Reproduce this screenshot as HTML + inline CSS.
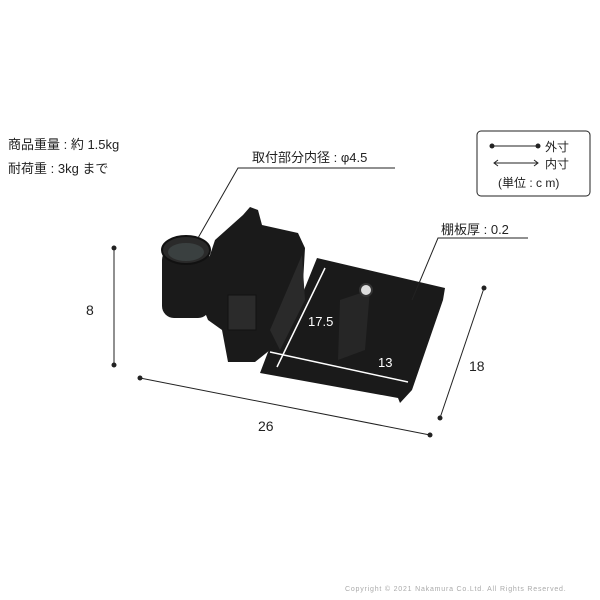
<html><body style="margin:0;width:600px;height:600px;background:#fff;position:relative;font-family:'Liberation Sans','Noto Sans CJK JP',sans-serif;color:#222;overflow:hidden">
<svg width="600" height="600" style="position:absolute;left:0;top:0">
<g fill="#1a1a1a">
<polygon points="317,258 445,288 443,300 412,390 400,403 398,398 260,373 268,352 300,300"/>
<polygon points="243,215 250,207 258,210 262,225 298,233 305,248 302,300 290,325 270,350 255,362 228,362 222,330 208,320 200,300 205,270 215,240"/>
<rect x="162" y="248" width="48" height="70" rx="12"/>
</g>
<ellipse cx="186" cy="250" rx="24" ry="14" fill="#2a2a2a" stroke="#111" stroke-width="2"/>
<ellipse cx="186" cy="252" rx="18" ry="9" fill="#3a4040"/>
<polygon points="270,330 302,255 305,300 280,350" fill="#2a2a2a"/>
<rect x="228" y="295" width="28" height="35" fill="#2b2b2b" stroke="#111"/>
<polygon points="340,300 370,290 365,350 338,360" fill="#262626"/>
<circle cx="366" cy="290" r="6" fill="#ddd" stroke="#333" stroke-width="2"/>
<g stroke="#fff" stroke-width="1.5" fill="#fff">
<line x1="325" y1="268" x2="277" y2="367"/><line x1="270" y1="352" x2="408" y2="382"/>
</g>
<g stroke="#222" stroke-width="1" fill="none">
<polyline points="198,238 238,168 395,168"/>
<polyline points="412,300 438,238 528,238"/>
<line x1="114" y1="248" x2="114" y2="365"/>
<line x1="140" y1="378" x2="430" y2="435"/>
<line x1="484" y1="288" x2="440" y2="418"/>
<line x1="492" y1="146" x2="538" y2="146"/>
<line x1="494" y1="163" x2="538" y2="163"/>
<polyline points="498,160 494,163 498,166"/>
<polyline points="534,160 538,163 534,166"/>
<rect x="477" y="131" width="113" height="65" rx="4"/>
</g>
<g fill="#222"><circle cx="114" cy="248" r="2.5"/><circle cx="114" cy="365" r="2.5"/><circle cx="140" cy="378" r="2.5"/><circle cx="430" cy="435" r="2.5"/><circle cx="484" cy="288" r="2.5"/><circle cx="440" cy="418" r="2.5"/><circle cx="492" cy="146" r="2.5"/><circle cx="538" cy="146" r="2.5"/></g>
</svg>
<div style="position:absolute;left:8px;top:133px;font-size:13px;line-height:24px">商品重量 : 約 1.5kg<br>耐荷重 : 3kg まで</div>
<div style="position:absolute;left:252px;top:147px;font-size:13px">取付部分内径 : φ4.5</div>
<div style="position:absolute;left:441px;top:219px;font-size:13px">棚板厚 : 0.2</div>
<div style="position:absolute;left:545px;top:138px;font-size:12px">外寸</div>
<div style="position:absolute;left:545px;top:155px;font-size:12px">内寸</div>
<div style="position:absolute;left:498px;top:174px;font-size:12px">(単位 : c m)</div>
<div style="position:absolute;left:86px;top:302px;font-size:14px">8</div>
<div style="position:absolute;left:258px;top:418px;font-size:14px">26</div>
<div style="position:absolute;left:469px;top:358px;font-size:14px">18</div>
<div style="position:absolute;left:308px;top:314px;font-size:13px;color:#fff">17.5</div>
<div style="position:absolute;left:378px;top:355px;font-size:13px;color:#fff">13</div>
<div style="position:absolute;left:345px;top:586px;font-size:7px;color:#aaa;letter-spacing:0.8px;white-space:nowrap">Copyright © 2021 Nakamura Co.Ltd. All Rights Reserved.</div>
</body></html>
